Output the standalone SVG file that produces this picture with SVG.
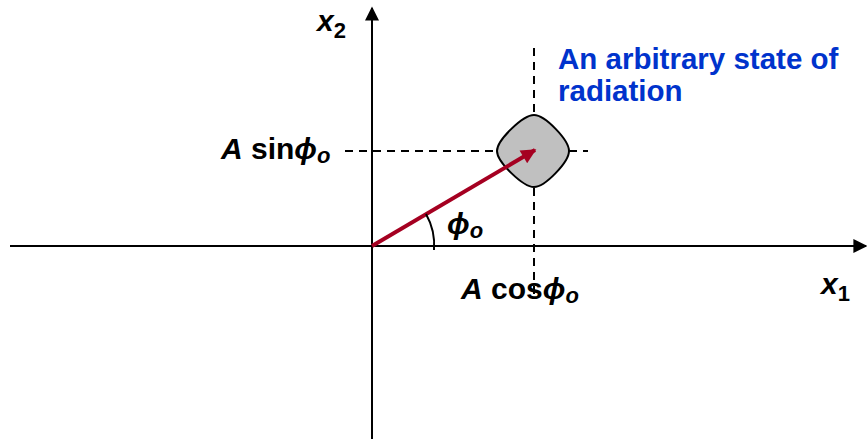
<svg xmlns="http://www.w3.org/2000/svg" width="867" height="439" viewBox="0 0 867 439">
<defs>
<style>
.lbl{font-family:"Liberation Sans",Arial,sans-serif;font-weight:bold;font-size:30px;fill:#000}
.it{font-style:italic}
.sub{font-size:22px}
.blue{fill:#0033cc;font-size:29.5px}
.axis{stroke:#000;stroke-width:2;fill:none}
.dash{stroke:#000;stroke-width:2;stroke-dasharray:8 6;fill:none}
</style>
<marker id="ahk" viewBox="0 0 10 10" refX="9" refY="5" markerWidth="16" markerHeight="14" markerUnits="userSpaceOnUse" orient="auto">
<path d="M0,0 L10,5 L0,10 Z" fill="#000"/>
</marker>
<marker id="ahr" viewBox="0 0 10 10" refX="9" refY="5" markerWidth="20" markerHeight="15" markerUnits="userSpaceOnUse" orient="auto">
<path d="M0,0 L10,5 L0,10 Z" fill="#a50021"/>
</marker>
</defs>
<rect width="867" height="439" fill="#fff"/>
<g id="connectors">
<line class="axis" x1="372" y1="439" x2="372" y2="8" marker-end="url(#ahk)"/>
<line class="axis" x1="10" y1="246" x2="866" y2="246" marker-end="url(#ahk)"/>
<line class="dash" x1="345" y1="151" x2="588" y2="151"/>
<line class="dash" x1="534" y1="48" x2="534" y2="300"/>
</g>
<g id="state">
<path d="M534,115 C545,115 569,140 569,151 C569,162 545,187 534,187 C523,187 497,162 497,151 C497,140 523,115 534,115 Z" fill="#c0c0c0" stroke="#000" stroke-width="2"/>
</g>
<g id="vector">
<line x1="372" y1="246" x2="535" y2="150" stroke="#a50021" stroke-width="4" marker-end="url(#ahr)"/>
<path d="M426,214 A63,63 0 0 1 434,250" fill="none" stroke="#000" stroke-width="2"/>
</g>
<g id="labels">
<text class="lbl" x="317" y="31"><tspan class="it">x</tspan><tspan class="sub" dy="7">2</tspan></text>
<text class="lbl" x="821" y="294"><tspan class="it">x</tspan><tspan class="sub" dy="7">1</tspan></text>
<text class="lbl blue" x="558" y="69">An arbitrary state of</text>
<text class="lbl blue" x="558" y="101">radiation</text>
<text class="lbl" x="221" y="159"><tspan class="it">A</tspan> sin<tspan class="it">ϕ</tspan><tspan class="it sub" dy="4">o</tspan></text>
<text class="lbl" x="461" y="299"><tspan class="it">A</tspan> cos<tspan class="it">ϕ</tspan><tspan class="it sub" dy="4">o</tspan></text>
<text class="lbl" x="447" y="234"><tspan class="it">ϕ</tspan><tspan class="it sub" dy="4">o</tspan></text>
</g>
</svg>
